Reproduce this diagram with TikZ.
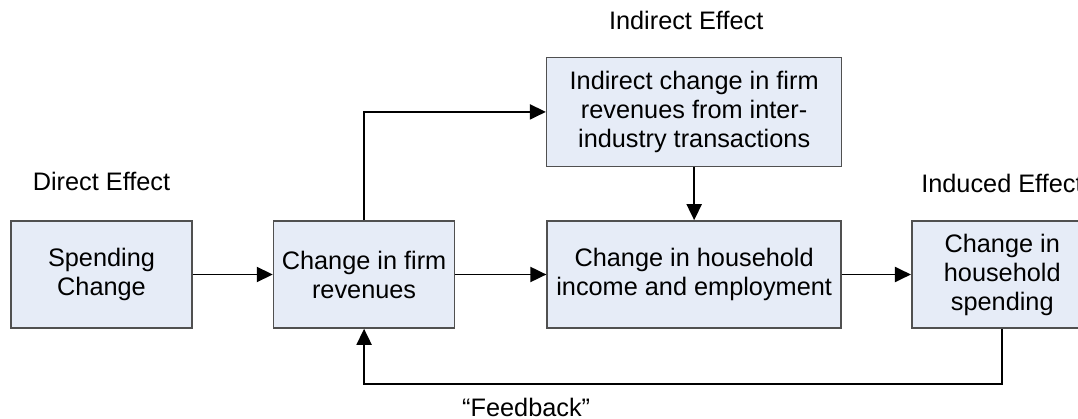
\documentclass[tikz,border=0pt]{standalone}
\usepackage{fontspec}
\setmainfont{Liberation Sans}
\usetikzlibrary{arrows.meta,positioning}
\definecolor{boxfill}{RGB}{230,236,247}
\definecolor{boxline}{RGB}{80,80,80}

\begin{document}
\begin{tikzpicture}[
    >={Triangle[length=0.32cm,width=0.3cm]},
    node distance=1.6cm,
    every node/.style={font=\fontsize{14.4}{16.5}\selectfont},
    effect/.style={draw=boxline, line width=0.9pt, fill=boxfill, align=center, minimum width=3.62cm, minimum height=2.14cm, inner sep=2pt},
    link/.style={->, line width=1.1pt},
    caption/.style={inner sep=0pt}
]
\useasboundingbox (0,0) rectangle (21.56,-8.38);
\node[effect] (spend) at (2.03,-5.49) {Spending\\Change};
\node[effect, right=1.6cm of spend] (firm) {Change in firm\\revenues};
\node[effect, minimum width=5.88cm, right=1.82cm of firm] (house) {Change in household\\income and employment};
\node[effect, minimum width=5.9cm, minimum height=2.18cm, above=1.06cm of house] (indirect) {Indirect change in firm\\revenues from inter-\\industry transactions};
\node[effect, right=1.38cm of house] (induced) {Change in\\household\\spending};
% effect captions
\node[caption, above=0.58cm of spend] (direct) {Direct Effect};
\node[caption, above=0.54cm of indirect, xshift=-0.16cm] (indirectcap) {Indirect Effect};
\node[caption, above right=0.54cm and 0.2cm of induced.north west] (inducedcap) {Induced Effect};
% connectors
\draw[link] (spend) -- (firm);
\draw[link] (firm) -- (house);
\draw[link] (house) -- (induced);
\draw[link] (firm.north) |- (indirect.west);
\draw[link] (indirect) -- (house);
\draw[link] (induced.south) -- ++(0,-1.1) -| (firm.south) node[pos=0.373, below=0.26cm, caption] (feedback) {“Feedback”};
\end{tikzpicture}
\end{document}
